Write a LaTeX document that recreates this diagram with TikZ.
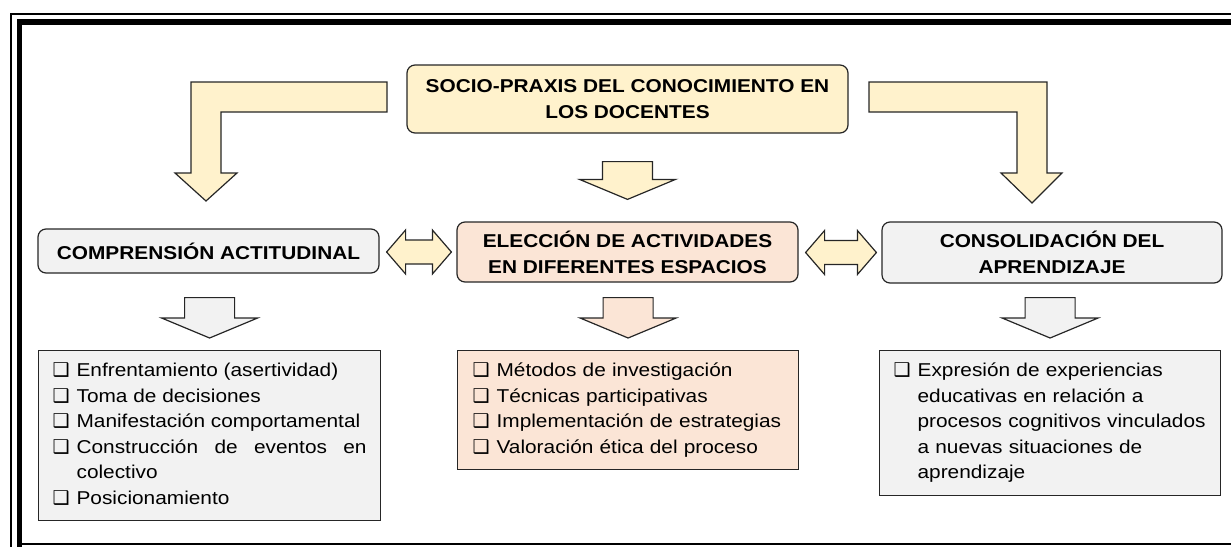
\documentclass[tikz,border=0pt]{standalone}
\usepackage{fontspec}
\setmainfont{Liberation Sans}[FakeStretch=1.12]
\newfontfamily\boxfont{DejaVu Sans}
\usetikzlibrary{calc}

\definecolor{cream}{HTML}{FFF2CC}
\definecolor{peach}{HTML}{FBE5D6}
\definecolor{lgray}{HTML}{F2F2F2}
\definecolor{edge}{HTML}{262626}

% check box in front of every item
\newcommand{\chk}{\strut\makebox[24pt][l]{\boxfont\bfseries\fontsize{19}{19}\selectfont ❑}}
\newcommand{\itm}[1]{\noindent\hangindent=24pt\hangafter=1\chk#1\strut\par}
\newcommand{\nl}{\hfil\break}

% block arrow pointing down, between two nodes
\newcommand{\downblk}[5]{%
  \draw[blk,fill=#1] let \p1=(#2), \p2=(#3) in
    (\x2-25pt,\y1-#4pt) -- (\x2+25pt,\y1-#4pt) -- (\x2+25pt,\y2+#5pt+20pt)
    -- (\x2+48pt,\y2+#5pt+20pt) -- (\x2,\y2+#5pt) -- (\x2-48pt,\y2+#5pt+20pt)
    -- (\x2-25pt,\y2+#5pt+20pt) -- cycle;}
% block arrow pointing both ways
\newcommand{\dblblk}[2]{%
  \draw[blk,fill=cream] let \p1=($(#1.east)+(7,0)$), \p2=($(#2.west)+(-5,0)$) in
    (\x1,\y2) -- (\x1+19pt,\y2+22pt) -- (\x1+19pt,\y2+12pt) -- (\x2-19pt,\y2+12pt)
    -- (\x2-19pt,\y2+22pt) -- (\x2,\y2) -- (\x2-19pt,\y2-22pt) -- (\x2-19pt,\y2-12pt)
    -- (\x1+19pt,\y2-12pt) -- (\x1+19pt,\y2-22pt) -- cycle;}

\begin{document}
\begin{tikzpicture}[x=1pt,y=-1pt,
  blk/.style={draw=edge,line width=1.2pt,line join=miter},
  title/.style={draw=edge,line width=1.2pt,rounded corners=8pt,inner sep=0pt,
    align=center,font=\fontsize{18.6}{26}\selectfont\bfseries},
  list/.style={draw=edge,line width=1.2pt,anchor=north west,inner xsep=14pt,
    inner ysep=8.5pt,font=\fontsize{18.6}{25.5}\selectfont}]
\useasboundingbox (0,0) rectangle (1231,546);

% frame
\draw[line width=1.2pt] (11,560) -- (11,14) -- (1245,14);
\draw[line width=5.5pt] (19.5,560) -- (19.5,22) -- (1245,22);
\draw[line width=1.2pt] (19.5,544) -- (1245,544);

\node[title,fill=cream,minimum width=441pt,minimum height=68pt] (top) at (627.5,99)
  {SOCIO-PRAXIS DEL CONOCIMIENTO EN\\LOS DOCENTES};
\node[title,fill=lgray,minimum width=341pt,minimum height=44pt] (comp) at (208.5,251)
  {COMPRENSIÓN ACTITUDINAL};
\node[title,fill=peach,minimum width=341pt,minimum height=60pt] (elec) at (627.5,252)
  {ELECCIÓN DE ACTIVIDADES\\EN DIFERENTES ESPACIOS};
\node[title,fill=lgray,minimum width=340pt,minimum height=61pt] (cons) at (1052,252.5)
  {CONSOLIDACIÓN DEL\\APRENDIZAJE};

\node[list,fill=lgray,text width=314pt,align=justify] (lstA) at (38,350) {%
  \itm{Enfrentamiento (asertividad)}
  \itm{Toma de decisiones}
  \itm{Manifestación comportamental}
  \itm{Construcción de eventos en\linebreak colectivo}
  \itm{Posicionamiento}};
\node[list,fill=peach,inner xsep=15pt,text width=311pt,align=left] (lstB) at (457,350) {%
  \itm{Métodos de investigación}
  \itm{Técnicas participativas}
  \itm{Implementación de estrategias}
  \itm{Valoración ética del proceso}};
\node[list,fill=lgray,text width=313pt,align=left] (lstC) at (879,350) {%
  \itm{Expresión de experiencias\nl educativas en relación a\nl procesos cognitivos
    vinculados\nl a nuevas situaciones de\nl aprendizaje}};

% bent arrows from the top box
\draw[blk,fill=cream] (387,82) -- (191,82) -- (191,173) -- (175,173) -- (206,201)
  -- (237,173) -- (221,173) -- (221,112) -- (387,112) -- cycle;
\draw[blk,fill=cream] (869,82) -- (1047,82) -- (1047,173) -- (1062,173) -- (1032,203)
  -- (1001,173) -- (1017,173) -- (1017,112) -- (869,112) -- cycle;

\downblk{cream}{top.south}{elec.north}{28}{22}
\downblk{lgray}{comp.south}{lstA.north}{24}{12}
\downblk{peach}{elec.south}{lstB.north}{15}{12}
\downblk{lgray}{cons.south}{lstC.north}{14}{12}

\dblblk{comp}{elec}
\dblblk{elec}{cons}

\end{tikzpicture}
\end{document}
